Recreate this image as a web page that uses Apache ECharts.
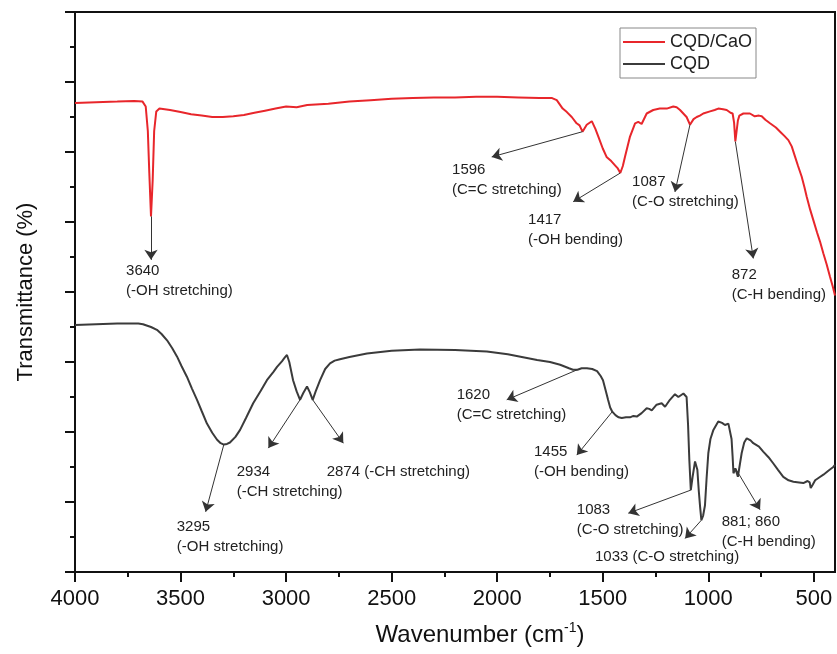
<!DOCTYPE html>
<html>
<head>
<meta charset="utf-8">
<title>FTIR spectra of CQD and CQD/CaO</title>
<script src="https://cdn.jsdelivr.net/npm/echarts@6/dist/echarts.min.js"></script>
<style>
  html, body { margin: 0; padding: 0; background: #fff; }
  #chart { width: 837px; height: 654px; }
</style>
</head>
<body>
<div id="chart"></div>
<script>
// ---- Spectra: [wavenumber (cm-1), transmittance (offset, arbitrary units)] ----
const cqdCaoSpectrum = [
  [4000, 6.70], [3900, 6.71], [3800, 6.72], [3720, 6.73], [3680, 6.72], [3665, 6.65],
  [3655, 6.30], [3648, 5.70], [3640, 5.08], [3632, 5.60], [3625, 6.30], [3615, 6.58],
  [3600, 6.62], [3550, 6.60], [3500, 6.57], [3450, 6.54], [3400, 6.52], [3350, 6.50],
  [3300, 6.50], [3250, 6.51], [3200, 6.53], [3150, 6.56], [3100, 6.59], [3050, 6.62],
  [3000, 6.65], [2950, 6.64], [2900, 6.67], [2800, 6.69], [2700, 6.72], [2600, 6.74],
  [2500, 6.76], [2400, 6.77], [2300, 6.78], [2200, 6.78], [2100, 6.79], [2000, 6.79],
  [1900, 6.78], [1800, 6.77], [1740, 6.77], [1718, 6.74], [1690, 6.62], [1670, 6.57],
  [1647, 6.50], [1624, 6.41], [1610, 6.38], [1596, 6.29], [1576, 6.39], [1552, 6.44],
  [1535, 6.33], [1521, 6.22], [1500, 6.05], [1482, 5.93], [1460, 5.87], [1442, 5.81],
  [1430, 5.77], [1417, 5.70], [1405, 5.80], [1395, 5.93], [1371, 6.22], [1347, 6.41],
  [1332, 6.43], [1316, 6.40], [1300, 6.50], [1292, 6.55], [1261, 6.60], [1230, 6.62],
  [1197, 6.62], [1166, 6.65], [1150, 6.64], [1134, 6.60], [1103, 6.50], [1087, 6.39],
  [1070, 6.47], [1055, 6.50], [1040, 6.52], [1024, 6.55], [992, 6.58], [970, 6.60],
  [953, 6.62], [930, 6.61], [913, 6.60], [895, 6.56], [885, 6.55], [878, 6.42],
  [872, 6.15], [866, 6.30], [860, 6.45], [853, 6.52], [834, 6.55], [803, 6.55],
  [780, 6.51], [771, 6.50], [760, 6.52], [747, 6.51], [730, 6.46], [708, 6.41],
  [680, 6.35], [660, 6.29], [640, 6.23], [621, 6.17], [605, 6.08], [589, 5.93],
  [575, 5.80], [558, 5.65], [545, 5.50], [534, 5.36], [518, 5.18], [503, 5.03],
  [485, 4.85], [471, 4.72], [455, 4.55], [440, 4.40], [424, 4.22], [410, 4.07], [400, 3.95]
];

const cqdSpectrum = [
  [4000, 3.53], [3900, 3.54], [3800, 3.55], [3700, 3.55], [3678, 3.54], [3640, 3.50],
  [3612, 3.46], [3590, 3.40], [3564, 3.31], [3540, 3.20], [3517, 3.08], [3495, 2.94],
  [3470, 2.79], [3446, 2.62], [3422, 2.46], [3400, 2.30], [3375, 2.12], [3350, 1.99],
  [3327, 1.89], [3310, 1.84], [3295, 1.82], [3280, 1.83], [3266, 1.85], [3240, 1.93],
  [3218, 2.03], [3190, 2.20], [3156, 2.41], [3120, 2.59], [3091, 2.74], [3060, 2.86],
  [3043, 2.93], [3020, 3.01], [3005, 3.07], [2996, 3.10], [2985, 3.00], [2967, 2.74],
  [2950, 2.58], [2934, 2.46], [2918, 2.56], [2901, 2.65], [2888, 2.57], [2874, 2.46],
  [2860, 2.58], [2839, 2.74], [2815, 2.90], [2792, 2.98], [2770, 3.02], [2745, 3.04],
  [2700, 3.07], [2617, 3.12], [2500, 3.16], [2366, 3.18], [2200, 3.17], [2049, 3.15],
  [1950, 3.11], [1811, 3.03], [1750, 3.00], [1702, 2.96], [1660, 2.91], [1641, 2.89],
  [1620, 2.89], [1600, 2.91], [1575, 2.91], [1550, 2.90], [1527, 2.87], [1510, 2.80],
  [1499, 2.74], [1485, 2.58], [1475, 2.46], [1465, 2.35], [1455, 2.29], [1440, 2.24],
  [1425, 2.21], [1410, 2.20], [1390, 2.21], [1371, 2.21], [1355, 2.23], [1339, 2.22],
  [1316, 2.27], [1292, 2.34], [1280, 2.33], [1268, 2.31], [1245, 2.39], [1221, 2.41],
  [1205, 2.36], [1182, 2.46], [1158, 2.54], [1142, 2.50], [1118, 2.55], [1110, 2.54],
  [1103, 2.50], [1096, 2.10], [1090, 1.60], [1083, 1.17], [1075, 1.35], [1063, 1.58],
  [1052, 1.46], [1045, 1.15], [1039, 0.93], [1033, 0.74], [1025, 0.80], [1016, 0.95],
  [1008, 1.35], [1000, 1.70], [990, 1.90], [976, 2.03], [953, 2.15], [935, 2.13],
  [921, 2.10], [905, 2.12], [897, 2.10], [890, 1.90], [885, 1.65], [881, 1.41],
  [872, 1.48], [866, 1.46], [860, 1.36], [850, 1.55], [842, 1.70], [830, 1.85],
  [818, 1.91], [800, 1.88], [787, 1.84], [760, 1.79], [740, 1.72], [715, 1.64],
  [692, 1.55], [670, 1.46], [645, 1.36], [620, 1.31], [597, 1.29], [570, 1.28],
  [550, 1.27], [530, 1.30], [520, 1.28], [515, 1.20], [505, 1.25], [494, 1.31],
  [475, 1.35], [455, 1.39], [430, 1.45], [408, 1.50], [400, 1.53]
];

const seriesNames = ['CQD/CaO', 'CQD'];

// Band assignments (wavenumber the arrow starts from, and the label text)
const cqdCaoBands = [
  { at: 3640, text: '3640\n(-OH stretching)' },
  { at: 1596, text: '1596\n(C=C stretching)' },
  { at: 1417, text: '1417\n(-OH bending)' },
  { at: 1087, text: '1087\n(C-O stretching)' },
  { at: 872,  text: '872\n(C-H bending)' }
];
const cqdBands = [
  { at: 3295, text: '3295\n(-OH stretching)' },
  { at: 2934, text: '2934\n(-CH stretching)' },
  { at: 2874, text: '2874 (-CH stretching)' },
  { at: 1620, text: '1620\n(C=C stretching)' },
  { at: 1455, text: '1455\n(-OH bending)' },
  { at: 1083, text: '1083\n(C-O stretching)' },
  { at: 1033, text: '1033 (C-O stretching)' },
  { at: 870,  text: '881; 860\n(C-H bending)' }
];

// Tick positions on the wavenumber axis
const xMajorTicks = [4000, 3500, 3000, 2500, 2000, 1500, 1000, 500];
const xMinorTicks = [3750, 3250, 2750, 2250, 1750, 1250, 750];

// ---- Annotation layout: arrow head and top-left of the label, in axis units ----
const cqdCaoLayout = [
  { tip: [3640, 4.46], label: [3758, 4.44] },
  { tip: [2026, 5.93], label: [2214, 5.89] },
  { tip: [1640, 5.29], label: [1854, 5.17] },
  { tip: [1158, 5.43], label: [1361, 5.71] },
  { tip: [787, 4.48],  label: [889, 4.39] }
];
const cqdLayout = [
  { tip: [3381, 0.86], label: [3518, 0.79] },
  { tip: [3084, 1.77], label: [3234, 1.57] },
  { tip: [2729, 1.84], label: [2808, 1.58] },
  { tip: [1955, 2.46], label: [2192, 2.67] },
  { tip: [1623, 1.67], label: [1826, 1.86] },
  { tip: [1379, 0.84], label: [1623, 1.03] },
  { tip: [1110, 0.48], label: [1537, 0.36] },
  { tip: [755, 0.89],  label: [937, 0.86] }
];

const FONT = '"Liberation Sans", Arial, Helvetica, sans-serif';
const RED = '#e8262b';
const DARK = '#3b3b3b';
const INK = '#111';

// Linear lookup of a spectrum value at a given wavenumber
function valueAt(spectrum, w) {
  for (let i = 0; i < spectrum.length - 1; i++) {
    const [w0, t0] = spectrum[i];
    const [w1, t1] = spectrum[i + 1];
    if ((w <= w0 && w >= w1) || (w >= w0 && w <= w1)) {
      if (w0 === w1) return t0;
      return t0 + (t1 - t0) * (w - w0) / (w1 - w0);
    }
  }
  return spectrum[spectrum.length - 1][1];
}

function arrows(spectrum, bands, layout) {
  return bands.map((b, i) => [
    { coord: [b.at, valueAt(spectrum, b.at)] },
    { coord: layout[i].tip }
  ]);
}

function labels(bands, layout) {
  return bands.map((b, i) => ({
    coord: layout[i].label,
    label: { formatter: b.text }
  }));
}

function annotated(name, spectrum, color, bands, layout) {
  return {
    name: name,
    type: 'line',
    data: spectrum,
    symbol: 'none',
    showSymbol: false,
    lineStyle: { color: color, width: 2 },
    itemStyle: { color: color },
    emphasis: { disabled: true },
    z: 3,
    markLine: {
      silent: true,
      symbol: ['none', 'arrow'],
      symbolSize: 10,
      lineStyle: { color: '#333', width: 1, type: 'solid' },
      label: { show: false },
      emphasis: { disabled: true },
      animation: false,
      data: arrows(spectrum, bands, layout)
    },
    markPoint: {
      silent: true,
      symbol: 'circle',
      symbolSize: 0,
      itemStyle: { color: 'rgba(0,0,0,0)' },
      label: {
        show: true,
        position: [0, 0],
        align: 'left',
        verticalAlign: 'top',
        fontSize: 15,
        lineHeight: 20,
        color: '#222',
        fontFamily: FONT
      },
      emphasis: { disabled: true },
      animation: false,
      data: labels(bands, layout)
    }
  };
}

const chart = echarts.init(document.getElementById('chart'), null, { renderer: 'canvas' });

chart.setOption({
  animation: false,
  backgroundColor: '#fff',
  grid: {
    left: 75, right: 2, top: 12, bottom: 82,
    show: true, borderColor: INK, borderWidth: 2, backgroundColor: 'rgba(0,0,0,0)'
  },
  legend: {
    data: seriesNames.map(n => ({ name: n, icon: 'rect' })),
    orient: 'vertical',
    left: 620, top: 28,
    itemWidth: 42, itemHeight: 2, itemGap: 2,
    padding: [4, 4, 4, 3],
    borderColor: '#888', borderWidth: 1,
    selectedMode: false,
    textStyle: { fontSize: 18, color: '#222', fontFamily: FONT, lineHeight: 20 }
  },
  xAxis: [
    {
      type: 'value', min: 400, max: 4000, inverse: true, position: 'bottom',
      axisLine: { show: true, lineStyle: { color: INK, width: 2 } },
      axisTick: { show: true, length: 10, customValues: xMajorTicks, lineStyle: { color: INK, width: 2 } },
      axisLabel: {
        customValues: xMajorTicks, fontSize: 22, margin: 16, color: INK, fontFamily: FONT,
        formatter: v => String(v)
      },
      splitLine: { show: false },
      name: '{a|Wavenumber (cm}{s|-1}{a|)}',
      nameLocation: 'middle',
      nameGap: 49,
      nameTextStyle: {
        padding: [0, 0, 0, 50],
        rich: {
          a: { fontSize: 24, color: INK, fontFamily: FONT, lineHeight: 28 },
          s: { fontSize: 14, color: INK, fontFamily: FONT, verticalAlign: 'top', lineHeight: 28 }
        }
      }
    },
    {
      type: 'value', min: 400, max: 4000, inverse: true, position: 'bottom',
      axisLine: { show: false },
      axisTick: { show: true, length: 5, customValues: xMinorTicks, lineStyle: { color: INK, width: 2 } },
      axisLabel: { show: false },
      splitLine: { show: false }
    }
  ],
  yAxis: {
    type: 'value', min: 0, max: 8, interval: 1,
    axisLine: { show: true, lineStyle: { color: INK, width: 2 } },
    axisTick: { show: true, length: 10, lineStyle: { color: INK, width: 2 } },
    minorTick: { show: true, splitNumber: 2, length: 5, lineStyle: { color: INK, width: 2 } },
    axisLabel: { show: false },
    splitLine: { show: false },
    minorSplitLine: { show: false },
    name: 'Transmittance (%)',
    nameLocation: 'middle',
    nameGap: 38,
    nameTextStyle: { fontSize: 22, color: INK, fontFamily: FONT }
  },
  series: [
    annotated(seriesNames[0], cqdCaoSpectrum, RED, cqdCaoBands, cqdCaoLayout),
    annotated(seriesNames[1], cqdSpectrum, DARK, cqdBands, cqdLayout)
  ]
});
</script>
</body>
</html>
